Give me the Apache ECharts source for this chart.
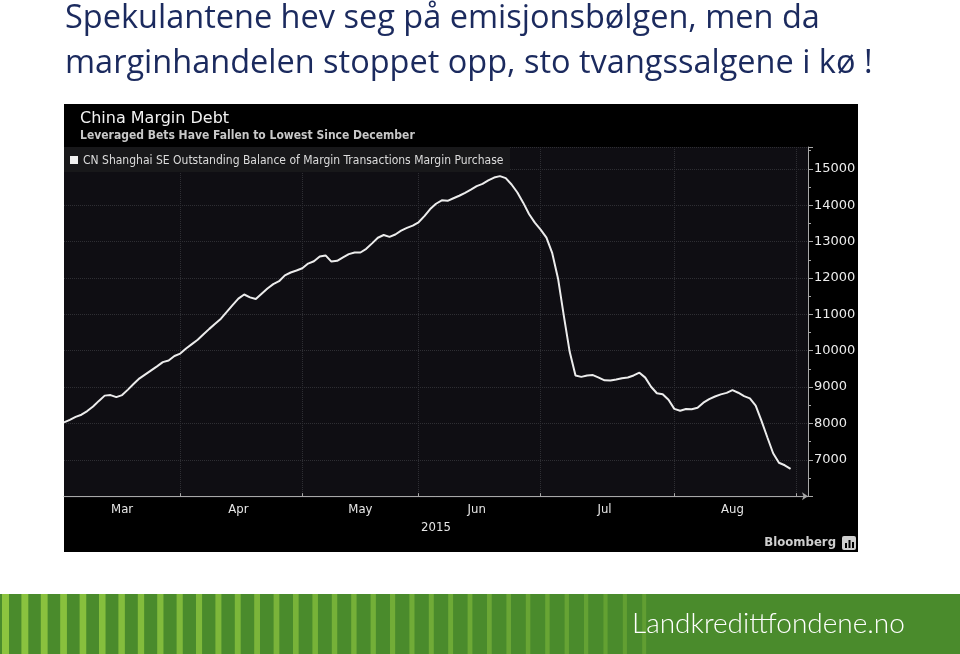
<!DOCTYPE html>
<html>
<head>
<meta charset="utf-8">
<script src="https://cdn.jsdelivr.net/npm/echarts@6/dist/echarts.min.js"></script>
<style>html,body{margin:0;padding:0;background:#fff}#c{width:960px;height:654px}</style>
</head>
<body>
<div id="c"></div>
<script>
// Trading days (Shanghai SE), 2015
const dates = [
 '2015-03-04','2015-03-05','2015-03-06','2015-03-09','2015-03-10','2015-03-11','2015-03-12','2015-03-13','2015-03-16','2015-03-17',
 '2015-03-18','2015-03-19','2015-03-20','2015-03-23','2015-03-24','2015-03-25','2015-03-26','2015-03-27','2015-03-30','2015-03-31',
 '2015-04-01','2015-04-02','2015-04-03','2015-04-07','2015-04-08','2015-04-09','2015-04-10','2015-04-13','2015-04-14','2015-04-15',
 '2015-04-16','2015-04-17','2015-04-20','2015-04-21','2015-04-22','2015-04-23','2015-04-24','2015-04-27','2015-04-28','2015-04-29','2015-04-30',
 '2015-05-04','2015-05-05','2015-05-06','2015-05-07','2015-05-08','2015-05-11','2015-05-12','2015-05-13','2015-05-14','2015-05-15',
 '2015-05-18','2015-05-19','2015-05-20','2015-05-21','2015-05-22','2015-05-25','2015-05-26','2015-05-27','2015-05-28','2015-05-29',
 '2015-06-01','2015-06-02','2015-06-03','2015-06-04','2015-06-05','2015-06-08','2015-06-09','2015-06-10','2015-06-11','2015-06-12',
 '2015-06-15','2015-06-16','2015-06-17','2015-06-18','2015-06-19','2015-06-23','2015-06-24','2015-06-25','2015-06-26','2015-06-29','2015-06-30',
 '2015-07-01','2015-07-02','2015-07-03','2015-07-06','2015-07-07','2015-07-08','2015-07-09','2015-07-10','2015-07-13','2015-07-14',
 '2015-07-15','2015-07-16','2015-07-17','2015-07-20','2015-07-21','2015-07-22','2015-07-23','2015-07-24','2015-07-27','2015-07-28','2015-07-29','2015-07-30','2015-07-31',
 '2015-08-03','2015-08-04','2015-08-05','2015-08-06','2015-08-07','2015-08-10','2015-08-11','2015-08-12','2015-08-13','2015-08-14',
 '2015-08-17','2015-08-18','2015-08-19','2015-08-20','2015-08-21','2015-08-24','2015-08-25','2015-08-26','2015-08-27','2015-08-28','2015-08-31',
 '2015-09-01','2015-09-02','2015-09-07'
];
// Outstanding balance of margin purchases (CNY 100m)
const marginDebt = [
 8030,8100,8180,8240,8340,8465,8620,8765,8780,8725,
 8780,8930,9090,9240,9350,9460,9570,9685,9730,9855,
 9920,10060,10180,10300,10450,10600,10740,10880,11065,11255,
 11430,11545,11465,11420,11565,11710,11830,11910,12070,12150,12205,
 12265,12395,12460,12590,12620,12450,12470,12565,12655,12700,
 12700,12800,12950,13105,13180,13130,13195,13300,13375,13440,
 13530,13700,13895,14040,14135,14120,14190,14260,14340,14430,
 14525,14585,14680,14760,14800,14745,14570,14350,14070,13760,13520,
 13330,13110,12680,11980,10950,9970,9320,9280,9320,9330,
 9260,9185,9180,9210,9245,9265,9320,9395,9260,9010,8830,8805,8650,
 8400,8350,8395,8390,8430,8570,8670,8740,8800,8840,
 8915,8845,8750,8690,8490,8070,7620,7180,6920,6850,6750,
 null,null,null
];
const monthStarts = ['2015-04-01','2015-05-04','2015-06-01','2015-07-01','2015-08-03','2015-09-01'];
const monthLabelDates = ['2015-03-18','2015-04-16','2015-05-18','2015-06-15','2015-07-16','2015-08-17'];
const monthLabels = ['Mar','Apr','May','Jun','Jul','Aug'];
const yearLabel = '2015';
const yTicks = [7000,8000,9000,10000,11000,12000,13000,14000,15000];

const chart = echarts.init(document.getElementById('c'));
const bbFont = '"DejaVu Sans Condensed","DejaVu Sans",sans-serif';
const titleFont = '32.5px "Open Sans", "Noto Sans", sans-serif';

const stripes = [];
for (let i = 0; i < 34; i++) {
  const x = 2 + i * 19.4;
  const t = i / 33;
  stripes.push({type:'rect', z: 21, shape:{x:x, y:594, width: 7 - 3*t, height:60},
    style:{fill:'#8cc43f', opacity: 1 - 0.65*t}});
}

chart.setOption({
  backgroundColor: '#ffffff',
  animation: false,
  graphic: [
    {type:'text', z:20, left:65, top:2, style:{text:'Spekulantene hev seg på emisjonsbølgen, men da', fill:'#1b2a5e', font:titleFont}},
    {type:'text', z:20, left:65, top:47, style:{text:'marginhandelen stoppet opp, sto tvangssalgene i kø !', fill:'#1b2a5e', font:titleFont}},
    {type:'rect', z:-10, shape:{x:64, y:104, width:794, height:448}, style:{fill:'#000'}},
    {type:'rect', z:-9, shape:{x:64, y:147, width:744, height:351}, style:{fill:'#0f0e13'}},
    {type:'text', z:20, left:80, top:111, style:{text:'China Margin Debt', fill:'#f2f2f2', font:'16px "DejaVu Sans", sans-serif'}},
    {type:'text', z:20, left:80, top:130, style:{text:'Leveraged Bets Have Fallen to Lowest Since December', fill:'#c8c8c8', font:'bold 12px ' + bbFont}},
    {type:'rect', z:15, shape:{x:64, y:147, width:446, height:25}, style:{fill:'#18181a'}},
    {type:'rect', z:16, shape:{x:70, y:156, width:8, height:8}, style:{fill:'#f0f0f0'}},
    {type:'text', z:16, left:83, top:155, style:{text:'CN Shanghai SE Outstanding Balance of Margin Transactions Margin Purchase', fill:'#dcdcdc', font:'12px ' + bbFont}},
    {type:'text', z:20, right:124, top:536, style:{text:'Bloomberg', fill:'#cfcfcf', font:'bold 13px ' + bbFont}},
    {type:'rect', z:20, shape:{x:842, y:536, width:14, height:14, r:2}, style:{fill:'#cfcfcf'}},
    {type:'rect', z:21, shape:{x:845, y:543, width:2, height:5}, style:{fill:'#000'}},
    {type:'rect', z:21, shape:{x:848.5, y:540, width:2, height:8}, style:{fill:'#000'}},
    {type:'rect', z:21, shape:{x:852, y:542, width:2, height:6}, style:{fill:'#000'}},
    {type:'rect', z:20, shape:{x:0, y:594, width:960, height:60}, style:{fill:'#4a8b2c'}},
    ...stripes,
    {type:'text', z:22, left:632, top:610, style:{text:'Landkredittfondene.no', fill:'#ffffff', font:'300 28px Lato, sans-serif'}}
  ],
  grid: {left:64, top:147, width:744, height:349.2, containLabel:false},
  xAxis: {
    type:'category', data: dates, boundaryGap:false,
    name: yearLabel, nameLocation:'middle', nameGap:24,
    nameTextStyle:{color:'#e6e6e6', fontSize:13, fontFamily: bbFont},
    axisLine:{show:true, lineStyle:{color:'#a8a8a8', width:1}, symbol:['none','arrow'], symbolSize:[6,6]},
    axisTick:{show:true, inside:true, length:3, lineStyle:{color:'#a8a8a8'},
      interval:(i, v) => monthStarts.includes(v)},
    axisLabel:{show:true, color:'#e6e6e6', fontSize:13, fontFamily: bbFont, margin:7,
      interval:(i, v) => monthLabelDates.includes(v),
      formatter:(v) => { const k = monthLabelDates.indexOf(v); return k >= 0 ? monthLabels[k] : ''; }},
    splitLine:{show:true, lineStyle:{color:'#2e2e33', type:'dotted', width:1},
      interval:(i, v) => monthStarts.includes(v)}
  },
  yAxis: {
    type:'value', position:'right', min:6000, max:15600, interval:1000,
    axisLine:{show:true, lineStyle:{color:'#a8a8a8', width:1}},
    axisTick:{show:true, length:5, lineStyle:{color:'#a8a8a8'}},
    minorTick:{show:true, splitNumber:2, length:3, lineStyle:{color:'#a8a8a8'}},
    axisLabel:{color:'#ececec', fontSize:13, fontFamily:'"DejaVu Sans", sans-serif', margin:6,
      formatter:(v) => yTicks.includes(v) ? String(v) : ''},
    splitLine:{show:true, lineStyle:{color:'#2e2e33', type:'dotted', width:1}}
  },
  series: [{
    type:'line', data: marginDebt, showSymbol:false, symbol:'none',
    lineStyle:{color:'#ececec', width:2}, z:3
  }]
});
</script>
</body>
</html>
